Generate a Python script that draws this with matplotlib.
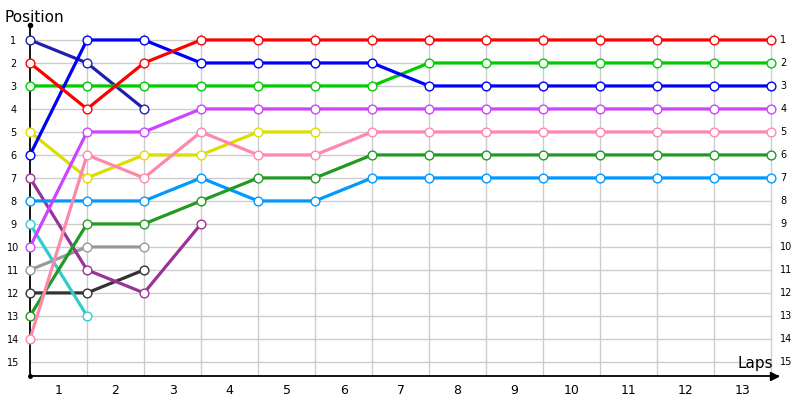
import matplotlib as mpl
mpl.use('Agg')

import matplotlib.pyplot as plt
import numpy as np

# Lap chart: position of every car after each lap (lap 0 = grid)
LAPS = np.arange(0, 14)
POSITIONS = np.arange(1, 16)
X_LABELS = [str(i) for i in range(1, 14)]

red = [2, 4, 2, 1, 1, 1, 1, 1, 1, 1, 1, 1, 1, 1]
blue = [6, 1, 1, 2, 2, 2, 2, 3, 3, 3, 3, 3, 3, 3]
lime = [3, 3, 3, 3, 3, 3, 3, 2, 2, 2, 2, 2, 2, 2]
navy = [1, 2, 4]
violet = [10, 5, 5, 4, 4, 4, 4, 4, 4, 4, 4, 4, 4, 4]
pink = [14, 6, 7, 5, 6, 6, 5, 5, 5, 5, 5, 5, 5, 5]
yellow = [5, 7, 6, 6, 5, 5]
green = [13, 9, 9, 8, 7, 7, 6, 6, 6, 6, 6, 6, 6, 6]
skyblue = [8, 8, 8, 7, 8, 8, 7, 7, 7, 7, 7, 7, 7, 7]
teal = [9, 13]
purple = [7, 11, 12, 9]
grey = [11, 10, 10]
dark = [12, 12, 11]

SERIES = [
    (grey, '#999999'),
    (dark, '#333333'),
    (teal, '#33cccc'),
    (purple, '#993399'),
    (yellow, '#dddd00'),
    (navy, '#2020b0'),
    (skyblue, '#0099ff'),
    (green, '#229922'),
    (pink, '#ff88aa'),
    (violet, '#cc44ff'),
    (lime, '#00cc00'),
    (blue, '#0000ff'),
    (red, '#ff0000'),
]

fig = plt.figure(figsize=(8, 4), dpi=100)
ax = fig.add_axes([30 / 800, 24.3 / 400, 748 / 800, 350.7 / 400])

ax.set_xlim(0, 13.12)
ax.set_ylim(15.6, 0.35)

# grid, limited to the lap range like the original
ax.vlines(LAPS[1:], 0.69, 15.6, color='#cccccc', lw=1, zorder=1)
ax.hlines(POSITIONS, 0, LAPS[-1], color='#cccccc', lw=1, zorder=1)

for pos, col in SERIES:
    ax.plot(LAPS[:len(pos)], pos, color=col, lw=2.3, marker='o',
            markersize=6.3, markerfacecolor='white', markeredgecolor=col,
            markeredgewidth=1, zorder=3, clip_on=False)

# axes
for side in ['top', 'right']:
    ax.spines[side].set_visible(False)
ax.spines['left'].set_linewidth(1.3)
ax.spines['bottom'].set_linewidth(1.3)
ax.plot(0, 1, 'o', color='black', ms=3, transform=ax.transAxes, clip_on=False)
ax.plot(0, 0, 'o', color='black', ms=2.5, transform=ax.transAxes, clip_on=False)
ax.plot(0.995, 0, '>', color='black', ms=6, transform=ax.transAxes,
        clip_on=False)

ax.set_yticks(POSITIONS)
ax.set_yticklabels([str(p) for p in POSITIONS], fontsize=7,
                   fontfamily='DejaVu Sans')
ax.tick_params(axis='y', length=0, pad=12)
for lab in ax.get_yticklabels():
    lab.set_horizontalalignment('center')

ax.set_xticks(LAPS[1:] - 0.5)
ax.set_xticklabels(X_LABELS, fontsize=9)
ax.tick_params(axis='x', length=0, pad=6)

# right-hand position labels
for p in POSITIONS:
    ax.text(LAPS[-1] + 0.16, p, str(p), fontsize=7, va='center', ha='left')

fig.text(5 / 800, 1 - 22 / 400, 'Position', fontsize=11, ha='left',
         va='baseline')
ax.text(13.04, 15.26, 'Laps', fontsize=11, ha='right', va='baseline')

fig.savefig('out.png', dpi=100)
